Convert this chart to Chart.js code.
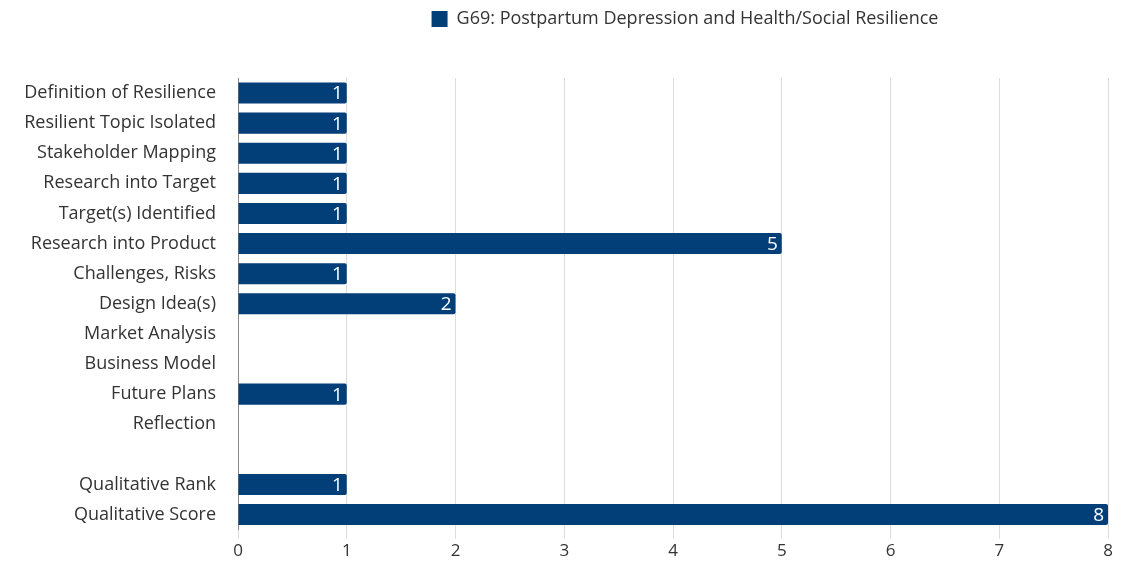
<!DOCTYPE html>
<html>
<head>
<meta charset="utf-8">
<script src="https://cdn.jsdelivr.net/npm/chart.js@4"></script>
<style>
  html, body { margin: 0; padding: 0; background: #fff; }
  #wrap { width: 1128px; height: 563px; position: relative; }
</style>
</head>
<body>
<div id="wrap"><canvas id="barChart"></canvas></div>
<script>
const categories = [
    'Definition of Resilience',
    'Resilient Topic Isolated',
    'Stakeholder Mapping',
    'Research into Target',
    'Target(s) Identified',
    'Research into Product',
    'Challenges, Risks',
    'Design Idea(s)',
    'Market Analysis',
    'Business Model',
    'Future Plans',
    'Reflection',
    '',
    'Qualitative Rank',
    'Qualitative Score'
];
const seriesName = 'G69: Postpartum Depression and Health/Social Resilience';
const values = [1, 1, 1, 1, 1, 5, 1, 2, null, null, 1, null, null, 1, 8];
const xTicks = [0, 1, 2, 3, 4, 5, 6, 7, 8];

const barColor = '#023f78';
const textColor = '#333333';
const fontFamily = '"Open Sans", Roboto, sans-serif';

// gap under the legend, legend nudged right, white values at bar ends
const barValueLabels = {
    id: 'barValueLabels',
    afterInit(chart) {
        const legend = chart.legend;
        if (legend) {
            const fit = legend.fit;
            legend.fit = function () {
                fit.call(this);
                this.height += 40;
            };
            const draw = legend.draw;
            legend.draw = function () {
                this.ctx.save();
                this.ctx.translate(12, 0);
                draw.call(this);
                this.ctx.restore();
            };
        }
    },
    afterDatasetsDraw(chart) {
        const ctx = chart.ctx;
        const meta = chart.getDatasetMeta(0);
        ctx.save();
        ctx.fillStyle = '#ffffff';
        ctx.font = '19px ' + fontFamily;
        ctx.textAlign = 'right';
        ctx.textBaseline = 'middle';
        meta.data.forEach(function (bar, i) {
            const v = values[i];
            if (v === null || v === undefined) return;
            ctx.fillText(String(v), bar.x - 4, bar.y + 1);
        });
        ctx.restore();
    }
};

function initChart() {
    const ctx = document.getElementById('barChart').getContext('2d');
    new Chart(ctx, {
        type: 'bar',
        data: {
            labels: categories,
            datasets: [{
                label: seriesName,
                data: values,
                backgroundColor: barColor,
                borderWidth: 0,
                borderRadius: { topRight: 2, bottomRight: 2 },
                borderSkipped: 'start',
                barPercentage: 0.7,
                categoryPercentage: 1.0
            }]
        },
        options: {
            indexAxis: 'y',
            responsive: true,
            maintainAspectRatio: false,
            animation: false,
            layout: {
                padding: { left: 10, right: 20, top: 0, bottom: 0 }
            },
            plugins: {
                legend: {
                    position: 'top',
                    fullSize: false,
                    labels: {
                        boxWidth: 16,
                        boxHeight: 16,
                        color: textColor,
                        font: { family: fontFamily, size: 18 },
                        padding: 10
                    }
                },
                tooltip: { enabled: false }
            },
            scales: {
                x: {
                    min: 0,
                    max: 8,
                    afterBuildTicks: function (scale) {
                        scale.ticks = xTicks.map(function (v) { return { value: v }; });
                    },
                    grid: {
                        color: '#dcdcdc',
                        lineWidth: 1,
                        drawTicks: true,
                        tickLength: 9
                    },
                    border: { display: false },
                    ticks: {
                        color: textColor,
                        font: { family: fontFamily, size: 17 },
                        padding: 2
                    }
                },
                y: {
                    afterFit: function (scale) { scale.width = 228; },
                    grid: { display: false, drawTicks: false },
                    border: { display: true, color: '#8a8a8a', width: 1 },
                    ticks: {
                        color: textColor,
                        font: { family: fontFamily, size: 18 },
                        padding: 22,
                        autoSkip: false
                    }
                }
            }
        },
        plugins: [barValueLabels]
    });
}

document.addEventListener('DOMContentLoaded', function () {
    initChart();
});
</script>
</body>
</html>
